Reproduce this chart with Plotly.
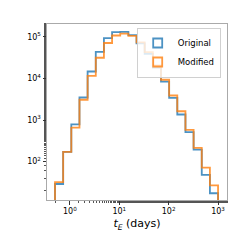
import numpy as np
import plotly.graph_objects as go

# Bin definition (log-spaced bins in t_E, days)
bin_min = 0.5
bin_max = 1000.0
n_bins = 20

# Histogram counts
original = [29, 171, 787, 3475, 14630, 43480, 93150, 129100, 131300, 109700,
            69460, 39000, 18200, 8318, 3418, 1355, 509, 194, 48, 17.4]
modified = [32, 171, 657, 3069, 11510, 31340, 70950, 107300, 119700, 105600,
            73330, 42560, 20610, 9272, 3878, 1622, 577, 213, 72, 27]

series_names = ["Original", "Modified"]
series_colors = ["rgba(31,119,180,0.8)", "rgba(255,127,14,0.8)"]

x_tickvals = [1, 10, 100, 1000]
x_ticktext = ["10<sup>0</sup>", "10<sup>1</sup>", "10<sup>2</sup>", "10<sup>3</sup>"]
y_tickvals = [100, 1000, 10000, 100000]
y_ticktext = ["10<sup>2</sup>", "10<sup>3</sup>", "10<sup>4</sup>", "10<sup>5</sup>"]

edges = np.logspace(np.log10(bin_min), np.log10(bin_max), n_bins + 1)
base = 1.0

fig = go.Figure()
for name, counts, color in zip(series_names, [original, modified], series_colors):
    xs = [edges[0]] + list(edges)
    ys = [base] + list(counts) + [base]
    fig.add_trace(go.Scatter(x=xs, y=ys, mode="lines", line_shape="hv",
                             line=dict(color=color, width=1.8),
                             showlegend=False, hoverinfo="skip"))
    fig.add_trace(go.Scatter(x=[None], y=[None], mode="markers", name=name,
                             marker=dict(symbol="square-open", size=9,
                                         color=color, line=dict(width=1.8, color=color))))

font = "DejaVu Sans"
fig.update_layout(
    width=224, height=224,
    margin=dict(l=39, r=4, t=16, b=29),
    paper_bgcolor="white", plot_bgcolor="white",
    font=dict(family=font, size=8, color="black"),
    legend=dict(x=0.965, y=0.98, xanchor="right", yanchor="top",
                bgcolor="rgba(255,255,255,0.8)", bordercolor="#d0d0d0", borderwidth=1,
                font=dict(size=8.5), itemwidth=30, tracegroupgap=0),
    xaxis=dict(type="log", range=[-0.463, 3.181], tickvals=x_tickvals, ticktext=x_ticktext,
               ticks="outside", ticklen=3.5, tickcolor="#333", showgrid=False, zeroline=False,
               showline=True, mirror=True, linecolor="#aaa", linewidth=1,
               tickfont=dict(size=8),
               minor=dict(ticks="outside", ticklen=2, tickcolor="#555", showgrid=False),
               title=dict(text="<i>t</i><sub><i>E</i></sub> (days)", font=dict(size=11), standoff=4)),
    yaxis=dict(type="log", range=[1.078, 5.307], tickvals=y_tickvals, ticktext=y_ticktext,
               ticks="outside", ticklen=3.5, tickcolor="#333", showgrid=False, zeroline=False,
               showline=True, mirror=True, linecolor="#aaa", linewidth=1,
               tickfont=dict(size=8),
               minor=dict(ticks="outside", ticklen=2, tickcolor="#555", showgrid=False)),
)

fig.write_html("out.html")
